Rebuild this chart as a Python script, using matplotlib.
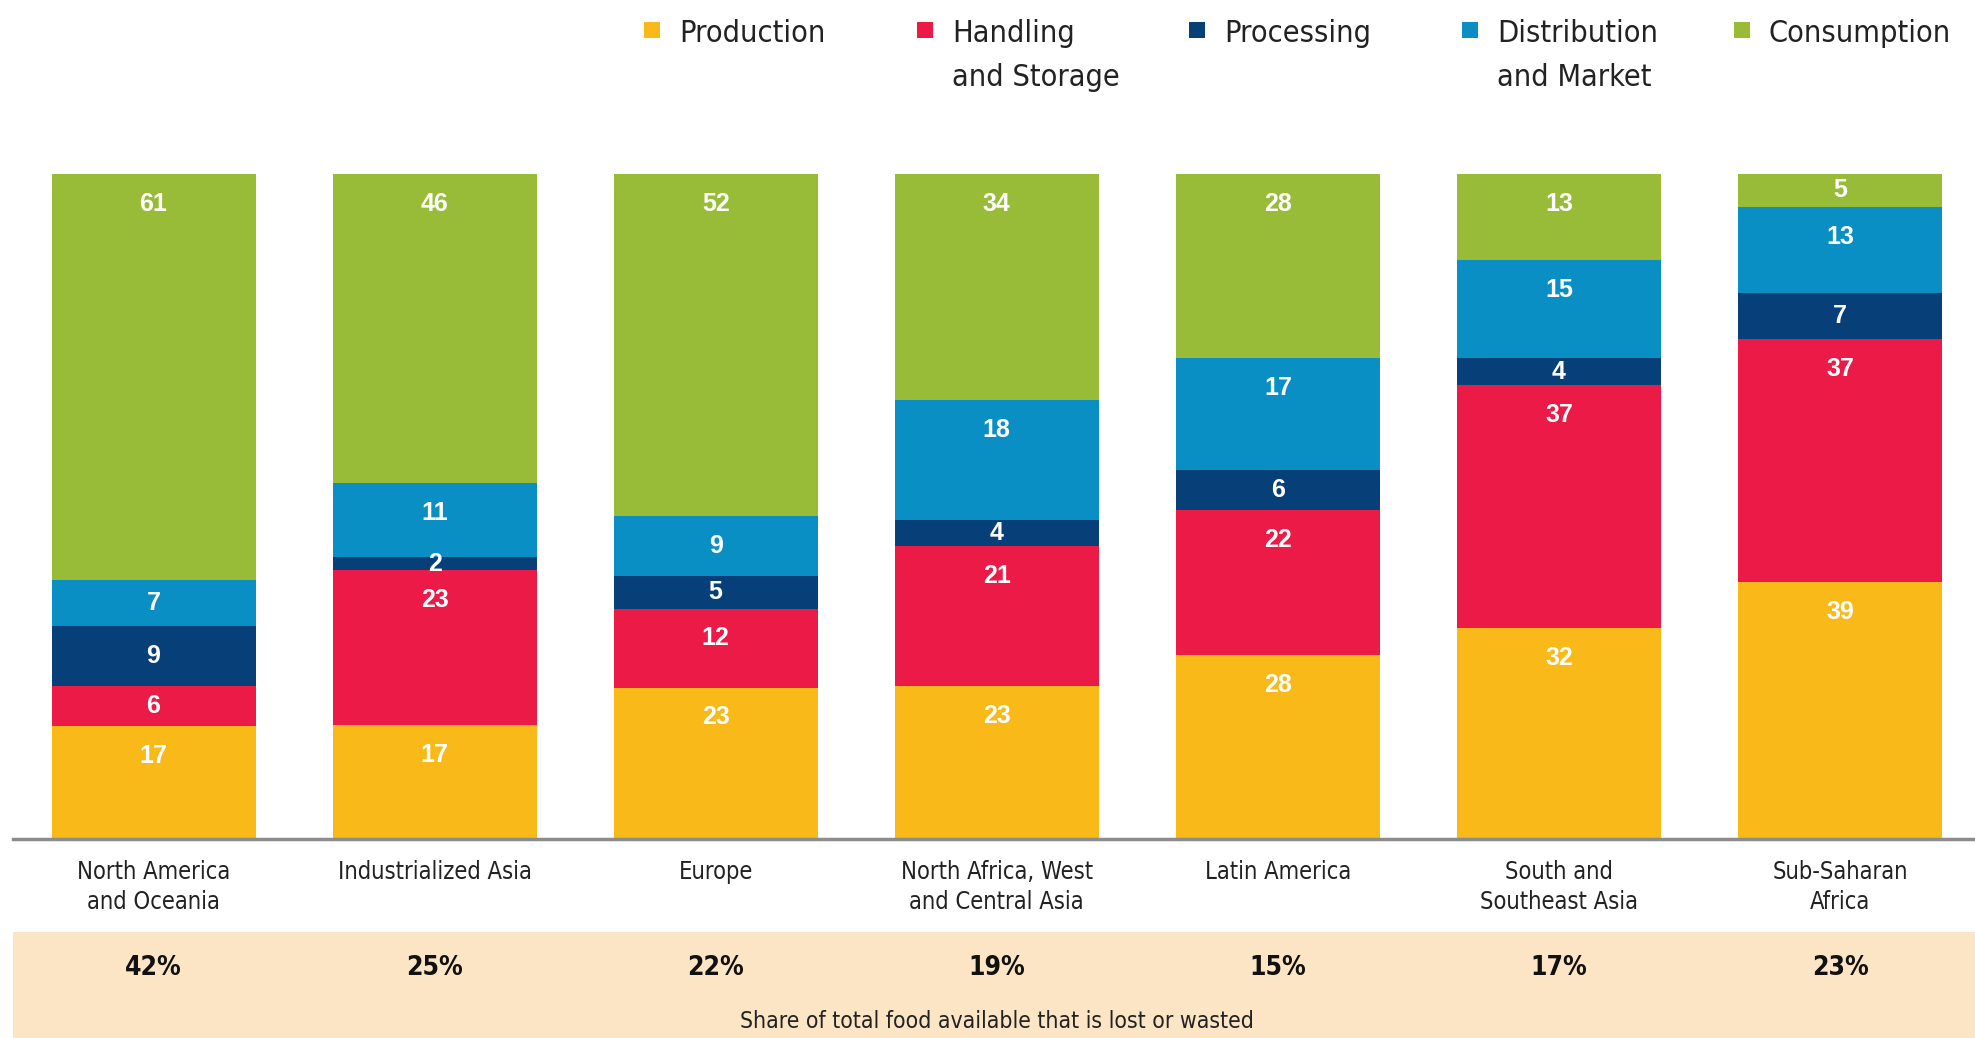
import numpy as np
import matplotlib
matplotlib.use("Agg")
import matplotlib.pyplot as plt
from matplotlib import font_manager
from matplotlib.patches import Rectangle
from matplotlib.transforms import blended_transform_factory

# data
regions = ["North America\nand Oceania", "Industrialized Asia", "Europe",
           "North Africa, West\nand Central Asia", "Latin America",
           "South and\nSoutheast Asia", "Sub-Saharan\nAfrica"]
stages = ["Production", "Handling\nand Storage", "Processing",
          "Distribution\nand Market", "Consumption"]
production = [17, 17, 23, 23, 28, 32, 39]
handling = [6, 23, 12, 21, 22, 37, 37]
processing = [9, 2, 5, 4, 6, 4, 7]
distribution = [7, 11, 9, 18, 17, 15, 13]
consumption = [61, 46, 52, 34, 28, 13, 5]
share_lost = ["42%", "25%", "22%", "19%", "15%", "17%", "23%"]
footnote = "Share of total food available that is lost or wasted"

colors = ["#F9B919", "#EC1A47", "#073F78", "#0A8FC5", "#98BC37"]


# look for a condensed face; fall back to Liberation Sans
def find_narrow(bold=False):
    for f in font_manager.fontManager.ttflist:
        nm = f.name + " " + f.fname
        is_bold = f.weight in ("bold", 700) or "Bold" in f.fname
        if ("Narrow" in nm or "Condensed" in nm) and is_bold == bold \
                and "Oblique" not in f.fname and "Italic" not in f.fname:
            return font_manager.FontProperties(fname=f.fname)
    return font_manager.FontProperties(family="Liberation Sans",
                                       weight="bold" if bold else "normal")


narrow = find_narrow(False)
narrow_bold = find_narrow(True)

W, H = 1975, 1038
fig = plt.figure(figsize=(W / 100, H / 100), dpi=100)
ax = fig.add_axes([13 / W, (H - 839) / H, 1962 / W, 665 / H])

series = np.array([production, handling, processing, distribution, consumption], dtype=float)
totals = series.sum(axis=0)
shares = series / totals * 100
x = np.arange(len(regions))
bottom = np.zeros(len(regions))
for vals, raw, col in zip(shares, series, colors):
    ax.bar(x, vals, bottom=bottom, width=0.726, color=col, edgecolor="none")
    top = bottom + vals
    for xi, t, v, r in zip(x, top, vals, raw):
        ax.text(xi, t - min(v / 2, 4.5), "%d" % r, ha="center", va="center",
                color="white", fontsize=18, fontweight="bold", family="Liberation Sans")
    bottom = top

ax.set_xlim(-0.5, 6.48)
ax.set_ylim(0, 100)
for s in ["top", "left", "right"]:
    ax.spines[s].set_visible(False)
ax.spines["bottom"].set_color("#8c8c8c")
ax.spines["bottom"].set_linewidth(2.5)
ax.set_yticks([])
ax.set_xticks(x)
ax.set_xticklabels(regions, fontproperties=narrow, color="#222222", linespacing=1.3)
for t in ax.get_xticklabels():
    t.set_fontsize(17)
ax.tick_params(axis="x", length=0, pad=15)

# beige band with the shares
fig.add_artist(Rectangle((13 / W, 0), 1962 / W, 106 / H, transform=fig.transFigure,
                         facecolor="#FCE5C5", edgecolor="none", zorder=0))
tr = blended_transform_factory(ax.transData, fig.transFigure)
for xi, s in zip(x, share_lost):
    t = ax.text(xi, 1 - 968 / H, s, transform=tr, ha="center", va="center",
                fontproperties=narrow_bold, color="#111111", clip_on=False)
    t.set_fontsize(19)
t = ax.text(3, 1 - 1021 / H, footnote, transform=tr, ha="center", va="center",
            fontproperties=narrow, color="#222222", clip_on=False)
t.set_fontsize(16.5)

# legend drawn by hand
sq_x = [652, 925, 1197, 1470, 1742]
for sx, lab, col in zip(sq_x, stages, colors):
    fig.add_artist(Rectangle(((sx - 8) / W, 1 - 38 / H), 16 / W, 16 / H,
                             transform=fig.transFigure, facecolor=col, edgecolor="none"))
    t = fig.text((sx + 27) / W, 1 - 19 / H, lab, ha="left", va="top",
                 fontproperties=narrow, color="#222222", linespacing=1.65)
    t.set_fontsize(22)

fig.savefig("out.png", dpi=100)
